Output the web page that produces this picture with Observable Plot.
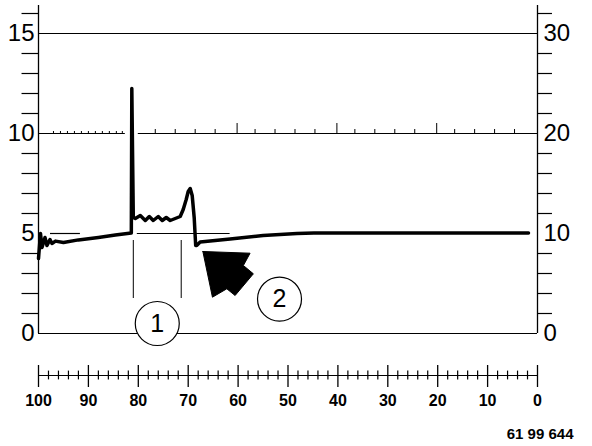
<!DOCTYPE html>
<html><head><meta charset="utf-8">
<script src="https://cdn.jsdelivr.net/npm/d3@7"></script>
<script src="https://cdn.jsdelivr.net/npm/@observablehq/plot@0.6"></script>
<style>body{margin:0;background:#fff}</style>
</head><body><div id="chart"></div>
<script>
// Main trace
const lineX = [100, 99.6, 99.3, 98.7, 98.3, 97.7, 97.3, 96.6, 95, 92, 88, 84.6, 81.4, 81.3, 81.0, 80.6, 79.6, 78.6, 77.8, 77.0, 76.0, 75.2, 74.4, 73.6, 72.6, 71.6, 71.0, 70.4, 70.0, 69.6, 69.2, 68.8, 68.5, 68.3, 67.6, 61.6, 55.0, 48.2, 44.8, 1.8];
const lineY = [3.75, 5.0, 4.3, 4.8, 4.4, 4.7, 4.5, 4.62, 4.55, 4.68, 4.8, 4.92, 5.03, 12.25, 5.8, 5.75, 5.9, 5.65, 5.85, 5.65, 5.85, 5.65, 5.8, 5.65, 5.75, 5.85, 6.2, 6.7, 7.1, 7.25, 6.9, 5.8, 4.4, 4.4, 4.57, 4.73, 4.9, 5.0, 5.02, 5.02];

// Axes
const leftLabels = [0, 5, 10, 15];
const rightLabels = [0, 10, 20, 30];
const yMinorTicks = [1, 2, 3, 4, 6, 7, 8, 9, 11, 12, 13, 14, 16];
const xMajor = [100, 90, 80, 70, 60, 50, 40, 30, 20, 10, 0];
const xMinor = [98, 96, 94, 92, 88, 86, 84, 82, 78, 76, 74, 72, 68, 66, 64, 62, 58, 56, 54, 52, 48, 46, 44, 42, 38, 36, 34, 32, 28, 26, 24, 22, 18, 16, 14, 12, 8, 6, 4, 2];

// Grid lines: [y, xStart, xEnd]
const gridY = [15, 10, 10, 0, 5, 5];
const gridX1 = [100, 100, 80, 100, 97.6, 80.2];
const gridX2 = [0, 82.6, 0, 0, 91.6, 61.6];
// small marks on the 10 line
const marks10Dense = [97, 95.6, 94.2, 92.8, 91.4, 90, 88.6, 87.2, 85.8, 84.4, 83.2];
const marks10Small = [76.6, 72.6, 68.6, 64.6, 56.6, 52.6, 48.6, 44.6, 36.6, 32.6, 28.6, 24.6, 16.6, 12.6, 8.6, 4.6];
const marks10Tall = [60.2, 40.2, 20.2];

// Annotations
const markerLinesX = [81, 71.4];
const circleX = [76.2, 51.7];
const circleY = [0.5, 1.72];
const circleLabels = ["1", "2"];
const arrowX = [67.06, 57.6, 58.94, 56.94, 60.6, 62.26, 65.14, 67.06];
const arrowY = [4.10, 4.015, 3.4, 2.985, 1.9, 2.235, 1.815, 4.10];
const caption = "61 99 644";

const AXIS_Y = -2.1;
const font = "'Liberation Sans', Arial, Helvetica, sans-serif";

const trace = lineX.map((x, i) => ({x, y: lineY[i]}));
const grid = gridY.map((y, i) => ({y, x1: gridX1[i], x2: gridX2[i]}));
const arrow = arrowX.map((x, i) => ({x, y: arrowY[i]}));
const circles = circleX.map((x, i) => ({x, y: circleY[i], label: circleLabels[i]}));

const chart = Plot.plot({
  width: 592,
  height: 446,
  marginLeft: 38,
  marginRight: 55,
  marginTop: 5,
  marginBottom: 71,
  x: {domain: [100, 0], axis: null},
  y: {domain: [-2.1, 16.4], axis: null},
  style: {fontFamily: font, background: "#fff", color: "#000"},
  marks: [
    // grid
    Plot.ruleY(grid, {y: "y", x1: "x1", x2: "x2", stroke: "#000", strokeWidth: 1.2}),
    Plot.ruleX(marks10Dense, {x: d => d, y1: 10, y2: 10.1, stroke: "#000", strokeWidth: 1}),
    Plot.ruleX(marks10Small, {x: d => d, y1: 10, y2: 10.2, stroke: "#000", strokeWidth: 1}),
    Plot.ruleX(marks10Tall, {x: d => d, y1: 10, y2: 10.5, stroke: "#000", strokeWidth: 1}),
    // left/right axis lines
    Plot.ruleX([100, 0], {x: d => d, y1: 0, y2: 16.4, stroke: "#000", strokeWidth: 1.3}),
    Plot.ruleY(yMinorTicks, {y: d => d, x1: 103.3, x2: 100, stroke: "#000", strokeWidth: 1.2}),
    Plot.ruleY(yMinorTicks, {y: d => d, x1: 0, x2: -3, stroke: "#000", strokeWidth: 1.2}),
    Plot.text(leftLabels, {x: 100, y: d => d, text: d => String(d), textAnchor: "end", dx: -4, fontSize: 24, fill: "#000"}),
    Plot.text(rightLabels, {x: 0, y: d => d / 2, text: d => String(d), textAnchor: "start", dx: 6, fontSize: 24, fill: "#000"}),
    // bottom scale
    Plot.ruleY([AXIS_Y], {x1: 100, x2: 0, stroke: "#000", strokeWidth: 1.2}),
    Plot.ruleX(xMajor, {x: d => d, y1: AXIS_Y - 0.6, y2: AXIS_Y + 0.5, stroke: "#000", strokeWidth: 1.3}),
    Plot.ruleX(xMinor, {x: d => d, y1: AXIS_Y - 0.22, y2: AXIS_Y + 0.22, stroke: "#000", strokeWidth: 1.2}),
    Plot.text(xMajor, {x: d => d, y: AXIS_Y, text: d => String(d), dy: 25, fontSize: 16, fontWeight: "bold", fill: "#000"}),
    Plot.text([caption], {x: 0, y: AXIS_Y, text: d => d, textAnchor: "end", dx: 36, dy: 59, fontSize: 15, fontWeight: "bold", fill: "#000"}),
    // marker lines
    Plot.ruleX(markerLinesX, {x: d => d, y1: 1.75, y2: 4.65, stroke: "#000", strokeWidth: 1}),
    // circles
    Plot.dot(circles, {x: "x", y: "y", r: 22, fill: "#fff", stroke: "#000", strokeWidth: 1.2}),
    Plot.text(circles, {x: "x", y: "y", text: "label", fontSize: 25, fill: "#000"}),
    // arrow
    Plot.line(arrow, {x: "x", y: "y", fill: "#000", stroke: "#000", strokeWidth: 1, curve: "linear"}),
    // trace
    Plot.line(trace, {x: "x", y: "y", stroke: "#000", strokeWidth: 3.5, strokeLinejoin: "round"})
  ]
});
document.getElementById("chart").append(chart);
</script>
</body></html>
